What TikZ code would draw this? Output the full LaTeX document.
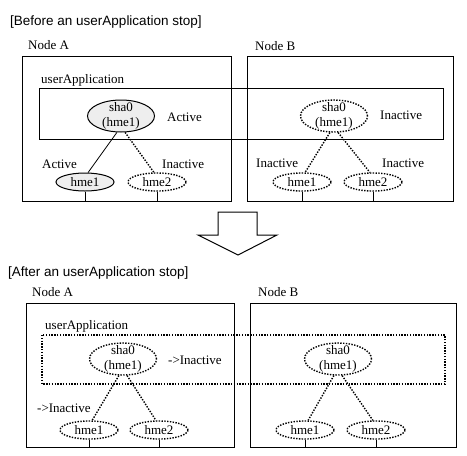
\documentclass[tikz,border=0pt]{standalone}
\usepackage{fontspec}
\setmainfont{Liberation Serif}
\newfontfamily\headfont{Liberation Sans}
\usetikzlibrary{shapes.geometric}

\begin{document}
\begin{tikzpicture}[x=1pt, y=-1pt,
  every node/.style={inner sep=0pt, font=\fontsize{13}{15}\selectfont},
  heading/.style={anchor=west, font=\headfont\fontsize{13.5}{15}\selectfont},
  tag/.style={anchor=west},
  hostbox/.style={draw, line width=1pt, anchor=north west},
  sha/.style={ellipse, minimum width=67, minimum height=32},
  hme/.style={ellipse, minimum width=58, minimum height=18},
  upstate/.style={draw, line width=1pt, fill=gray!13},
  downstate/.style={draw, line width=1.4pt, dash pattern=on 1.4pt off 1.4pt},
  dotlink/.style={line width=1.4pt, dash pattern=on 1.4pt off 1.4pt}]
\useasboundingbox (0,0) rectangle (467,456);

\node[heading] (preTitle) at (10,22) {[Before an userApplication stop]};
\node[tag] (preNameA) at (28,45) {Node A};
\node[tag] (preNameB) at (255,46) {Node B};
\node[hostbox, minimum width=209, minimum height=145] (preBoxA) at (22,56) {};
\node[hostbox, minimum width=206, minimum height=145] (preBoxB) at (247,56) {};
\node[hostbox, minimum width=404, minimum height=51] (preApp) at (39,88) {};
\node[tag] (preAppName) at (41,80) {userApplication};

\node[sha, upstate, label={[align=center]center:sha0\\(hme1)}] (preShaA) at (121,116) {};
\node[hme, upstate] (preHmeA1) at (85,182) {hme1};
\node[hme, downstate] (preHmeA2) at (157,182) {hme2};
\draw[line width=0.8pt] (preShaA.-104) -- (preHmeA1.72);
\draw[dotlink] (preShaA.-76) -- (preHmeA2.108);
\draw[line width=1pt] (preHmeA1.south) -- (preHmeA1.south |- preBoxA.south);
\draw[line width=1pt] (preHmeA2.south) -- (preHmeA2.south |- preBoxA.south);
\node[tag] (preStShaA) at (167,117) {Active};
\node[tag] (preStHmeA1) at (42,164) {Active};
\node[tag] (preStHmeA2) at (162,164) {Inactive};

\node[sha, downstate, label={[align=center]center:sha0\\(hme1)}] (preShaB) at (334,116) {};
\node[hme, downstate] (preHmeB1) at (302,182) {hme1};
\node[hme, downstate] (preHmeB2) at (373,182) {hme2};
\draw[dotlink] (preShaB.-104) -- (preHmeB1.72);
\draw[dotlink] (preShaB.-76) -- (preHmeB2.108);
\draw[line width=1pt] (preHmeB1.south) -- (preHmeB1.south |- preBoxB.south);
\draw[line width=1pt] (preHmeB2.south) -- (preHmeB2.south |- preBoxB.south);
\node[tag] (preStShaB) at (380,115) {Inactive};
\node[tag] (preStHmeB1) at (256,163) {Inactive};
\node[tag] (preStHmeB2) at (382,163) {Inactive};

\draw[line width=1pt] (218,212) -- (257,212) -- (257,235) -- (277,235) -- (238,255)
  -- (198,235) -- (218,235) -- cycle;

\node[heading] (postTitle) at (8,273) {[After an userApplication stop]};
\node[tag] (postNameA) at (32,292) {Node A};
\node[tag] (postNameB) at (258,292) {Node B};
\node[hostbox, minimum width=208, minimum height=144] (postBoxA) at (26,303) {};
\node[hostbox, minimum width=206, minimum height=144] (postBoxB) at (250,303) {};
\draw[line width=1.3pt, dash pattern=on 1.4pt off 1.4pt] (42,335) rectangle (445,384);
\node[tag] (postAppName) at (45,326) {userApplication};

\node[sha, downstate, label={[align=center]center:sha0\\(hme1)}] (postShaA) at (123,359) {};
\node[hme, downstate] (postHmeA1) at (89,430) {hme1};
\node[hme, downstate] (postHmeA2) at (159,430) {hme2};
\draw[dotlink] (postShaA.-104) -- (postHmeA1.72);
\draw[dotlink] (postShaA.-76) -- (postHmeA2.108);
\draw[line width=1pt] (postHmeA1.south) -- (postHmeA1.south |- postBoxA.south);
\draw[line width=1pt] (postHmeA2.south) -- (postHmeA2.south |- postBoxA.south);
\node[tag] (postStShaA) at (168,360) {->Inactive};
\node[tag] (postStHmeA1) at (37,408) {->Inactive};

\node[sha, downstate, label={[align=center]center:sha0\\(hme1)}] (postShaB) at (338,359) {};
\node[hme, downstate] (postHmeB1) at (305,430) {hme1};
\node[hme, downstate] (postHmeB2) at (376,430) {hme2};
\draw[dotlink] (postShaB.-104) -- (postHmeB1.72);
\draw[dotlink] (postShaB.-76) -- (postHmeB2.108);
\draw[line width=1pt] (postHmeB1.south) -- (postHmeB1.south |- postBoxB.south);
\draw[line width=1pt] (postHmeB2.south) -- (postHmeB2.south |- postBoxB.south);
\end{tikzpicture}
\end{document}
